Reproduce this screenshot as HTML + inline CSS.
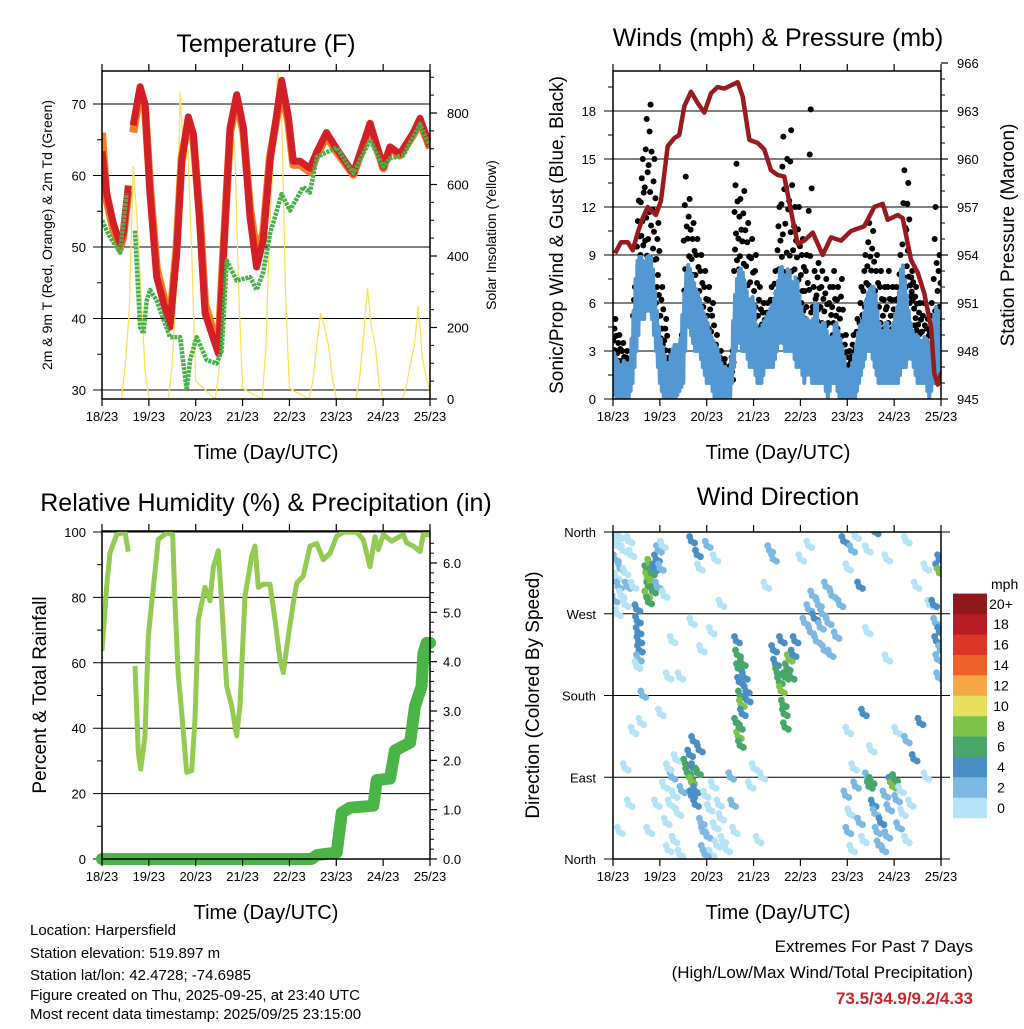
<!DOCTYPE html>
<html><head><meta charset="utf-8"><style>
html,body{margin:0;padding:0;background:#fff;}
svg text{font-family:"Liberation Sans",sans-serif;fill:#000;}
</style></head><body>
<svg id="fig" width="1024" height="1024" viewBox="0 0 1024 1024" xmlns="http://www.w3.org/2000/svg">
<defs>
<clipPath id="c1"><rect x="102" y="71" width="328" height="328"/></clipPath>
<clipPath id="c2"><rect x="613" y="71" width="328" height="328"/></clipPath>
<clipPath id="c3"><rect x="102" y="531" width="328" height="328"/></clipPath>
<clipPath id="c4"><rect x="613" y="532" width="328" height="327"/></clipPath>
</defs>
<g id="g1"></g>
<g id="g2"></g>
<g id="g3"></g>
<g id="g4"></g>
<g id="gt">
<text x="266" y="52" font-size="25" text-anchor="middle">Temperature (F)</text>
<text x="778" y="46" font-size="25" text-anchor="middle">Winds (mph) &amp; Pressure (mb)</text>
<text x="266" y="511" font-size="25" text-anchor="middle">Relative Humidity (%) &amp; Precipitation (in)</text>
<text x="778" y="505" font-size="25" text-anchor="middle">Wind Direction</text>
<text x="266" y="459" font-size="20" text-anchor="middle">Time (Day/UTC)</text>
<text x="778" y="459" font-size="20" text-anchor="middle">Time (Day/UTC)</text>
<text x="266" y="919" font-size="20" text-anchor="middle">Time (Day/UTC)</text>
<text x="778" y="919" font-size="20" text-anchor="middle">Time (Day/UTC)</text>
<text transform="translate(52,235) rotate(-90)" font-size="14" text-anchor="middle">2m &amp; 9m T (Red, Orange) &amp; 2m Td (Green)</text>
<text transform="translate(496,235) rotate(-90)" font-size="14" text-anchor="middle">Solar Insolation (Yellow)</text>
<text transform="translate(563,235) rotate(-90)" font-size="19" text-anchor="middle">Sonic/Prop Wind &amp; Gust (Blue, Black)</text>
<text transform="translate(1014,235) rotate(-90)" font-size="19" text-anchor="middle">Station Pressure (Maroon)</text>
<text transform="translate(46,695) rotate(-90)" font-size="19" text-anchor="middle">Percent &amp; Total Rainfall</text>
<text transform="translate(539,695) rotate(-90)" font-size="19" text-anchor="middle">Direction (Colored By Speed)</text>
<text x="991" y="589" font-size="14">mph</text>
<g font-size="15">
<text x="30" y="935">Location: Harpersfield</text>
<text x="30" y="958">Station elevation: 519.897 m</text>
<text x="30" y="980">Station lat/lon: 42.4728; -74.6985</text>
<text x="30" y="1000">Figure created on Thu, 2025-09-25, at 23:40 UTC</text>
<text x="30" y="1019">Most recent data timestamp: 2025/09/25 23:15:00</text>
</g>
<text x="973" y="952" font-size="17" text-anchor="end">Extremes For Past 7 Days</text>
<text x="973" y="978" font-size="17" text-anchor="end">(High/Low/Max Wind/Total Precipitation)</text>
<text x="973" y="1004" font-size="17" font-weight="bold" text-anchor="end" style="fill:#cc2229">73.5/34.9/9.2/4.33</text>
</g>
</svg>
<script>
// ---------- data ----------
const dayLabels = ["18/23","19/23","20/23","21/23","22/23","23/23","24/23","25/23"];
const tempHours = [0,2.4,5.8,9.2,10.9,13.5,null,16,19.5,22,24.6,28,34.8,38.2,40.8,44.2,46.8,50.2,52.8,59.6,62.1,65.6,69,72.4,75.8,79.2,82.6,86,92,95.4,98,101.4,106.5,110,115,120.2,128.7,137.3,144.1,147.5,152.6,159.5,162.9,168];
const temp9m = [63.4,57.5,53.3,50.5,52,58.6,null,67,72.4,70,57.5,45.8,38.8,49,62,68.2,65.8,52.8,40.7,35.1,48.1,66.7,71.3,66.7,54.2,47.2,51,62,73.3,68.2,62,62,61,63.3,66,63.7,60.3,67.3,61.2,64,63,66,68,64];
const temp2m = [66,56.5,52.5,49.8,51.5,57.8,null,66,71.5,69.5,58.5,47,39.5,50,62.5,67.5,65,54,42,35.8,49,66,70.5,66,55.5,49,52,62.5,72,67.5,61.5,61.5,60.5,62.8,65.5,63.3,60.1,66.8,61,63.8,62.8,65.7,67.6,63.8];
const dewHours = [0,4.1,9.2,12.6,null,16.9,19.5,21.2,22.9,24.6,28,34.8,40,43.4,45.1,48.5,53.6,58.7,61.3,63.9,69,75.8,79.2,82.6,86,92,96.3,103.1,106.5,110,120.2,128.7,137.3,144.1,147.5,154.3,162.9,168];
const dewPoint = [53.7,51.4,49.2,57.5,null,52.3,38.8,37.9,42.5,44,42.5,37.4,37.4,30,34.2,37.4,34.2,33.7,35.5,48.1,45.3,45.8,44,46.5,51.8,57.4,55.1,58.4,57.6,62.6,63.9,60.3,65,61.2,62.4,62.8,67.2,64];
const solarHours = [0,10,12,14,16,18,20,22,24,34,36,38,40,42,44,46,48,58,60,62,64,66,68,70,72,82,84,86,88,90,92,94,96,106,108,110,112,114,116,118,120,130,132,134,136,138,140,142,144,154,156,158,160,162,164,166,168];
const solarWm2 = [0,0,100,250,650,500,300,80,0,0,100,300,860,650,700,400,50,0,80,350,600,800,700,300,30,0,150,500,700,917,800,300,30,0,50,150,240,200,150,60,0,0,60,180,310,200,150,40,0,0,40,100,150,260,120,60,20];
const tempTicks = [30,40,50,60,70];
const solarTicks = [0,200,400,600,800];

const presHoursZ = [42,60,80,95,110,125,140,165,180,200,220,235,250,270,290,310,330,350,370,390,410,425,445,470,490,510,530,550,575,590,610,635,665,690,720,750,790,820,845,860,890,905,930,950,970,990,1000,1010,1020,1028];
const pressure = [954.1,954.8,954.8,954.3,955.4,956.3,957.0,956.5,957.4,960.8,961.3,961.5,963.3,964.2,963.5,962.9,964.1,964.5,964.4,964.6,964.8,963.9,961.2,961.0,960.6,959.3,959.0,958.9,956.2,954.7,954.9,955.4,954.0,955.1,954.9,955.5,955.8,957.0,957.2,956.2,956.5,956.3,953.7,952.9,951.6,949.5,946.6,945.9,946.6,946.8];
const windLo = [0.5,0,0,0,0,1,3,5,5,6,5,3,1,0,0,0,0,0.5,1,5,4,3,3,2,1,1,0,0,0,0,0,2,4,3,3,2,2,1,1,2,2,2,3,4,3,3,3,2,2,1,2,1,1,1,1,0,1,1,0,0,0,0,0,1,2,3,3,2,1,1,1,1,1,1,2,2,3,2,1,1,1,0,1,1,1];
const windHi = [3,2.5,2,2.5,1.5,4.5,8.5,9,8.5,9,8.8,6,4,3,2,3,3.5,3,6,8.5,8,7,6.5,5.5,5,4,3.5,3,2,2,1.5,6,8,8.2,7,6,6.5,4,4.5,5,5.5,6,7,8.5,7.5,8.3,7,7.8,6,5,5,4.5,6.5,4,5,4,3.5,5,4,3,1.5,2,3,4.5,5,6.5,7,7,5,4,5,4,5,6,8.8,7,5,4,4,3.5,4,3,5,6,4];
const gustLo = [2,1.5,1,1,1,3,6,9,8,10,8,6,3,2,1,1,1,1,5,7,6,5,4,3,3,2,1,1,1,0.5,1,8,7,6,5,4,4,3,3,3,3,4,6,7,6,7,6,5,5,4,4,3,4,3,3,2,3,3,2,1,1,1,1,2,4,5,5,4,3,3,3,3,3,3,4,7,6,4,3,2,2,2,2,4,3];
const gustHi = [5,4,3.5,3,2.5,7,12.4,15,17.5,18.4,15,11,7,5,3,2.5,3,4,13.9,12.5,11,10,9,8,7,6,4,3,2.5,2,3,14.7,12.5,13,11,10,9,7,6,6,7,8,12,16.4,15,16.8,12,12,10,9,18.1,8,8.5,8,7.5,7,8,7,7.5,4,3,4,5,7,9,11,10.5,9,8,7,8,7,7,9,14.3,13.5,8,7,6,6,5,6,12,9,5];
const windTicks = [0,3,6,9,12,15,18];
const presTicks = [945,948,951,954,957,960,963,966];

const rhHoursZ = [36,50,60,80,105,115,null,135,145,152,165,175,190,205,230,248,255,265,275,290,305,315,325,345,360,370,385,395,410,425,440,450,465,485,495,505,520,540,555,570,580,595,610,620,640,660,680,700,720,740,760,800,820,840,855,865,880,905,940,950,970,990,1000,1020];
const relHum = [63.6,83.5,93.6,99.2,100,94,null,59,32.5,27.5,37.6,68.1,83,97.7,99.7,99.2,78.3,56.1,44.8,26.5,27,42.7,73.2,83.1,79,89.2,94.3,78.3,52.9,46.8,37.6,47,80.4,92.6,95.7,83.1,84,84,73.2,61,57,68.1,78.3,84.4,86.5,95.7,96.5,91.5,93.5,98.7,100,100,97.6,89.4,98.6,94.6,99.2,97.2,99.2,96.7,95.7,94,99.2,99.2];
const precipHours = [0,107.4,110,120.2,122.8,127,139,140.7,147.5,150,157.8,160.3,163.7,164.6,166.3,168];
const precipIn = [0,0,0.08,0.13,0.94,1.04,1.08,1.6,1.63,2.2,2.36,3.1,3.5,4.17,4.38,4.38];
const rhTicks = [0,20,40,60,80,100];
const precipTicks = ["0.0","1.0","2.0","3.0","4.0","5.0","6.0"];

const dirHours = [0.5,1,1.5,2,2.5,3,3.5,4,5,6,7,8,0.3,2,6,9,10,12,12.3,12.6,13,13.3,12.8,12,17,17.5,18,18.5,19,19.5,20,17,18,21,22,22.5,23,24,25,26,6,3,8,10,14,15,18,22,24,28,30,34,40,45,50,55,52,48,44,40,43,26,27,28,29,30,31,32,33,34,35,28,31,37,38,39,40,41,42,43,44,41,42,39,40,45,46,47,48,49,50,51,52,53,54,55,56,58,46,47,63,63.5,64,64.5,65,65.5,66,63,64,65,67,68,68.5,66,64.5,60,61,62,70,72,74,76,78,80,82,82,83,84,85,86,87,87.5,88,89,90,91,92,93,86,88,98,100,101,102,103,104,105,106,107,108,110,112,114,116,109,111,96,100,118,120,122,124,126,130,134,140,150,155,160,162,130,140,128,132,145,150,154,157,160,120,123,119,120,121,122,124,126,128,130,131,132,133,134,135,136,137,138,139,140,141,142,143,144,145,146,148,150,152,147,164,165,165.5,166,166.5,167,167.5,166,167,167];
const dirDeg = [350,330,310,345,300,355,320,290,340,315,300,350,285,270,280,335,300,275,262,250,240,230,220,212,318,310,300,325,305,315,295,290,283,320,330,300,340,320,345,290,100,30,60,140,150,180,30,60,160,200,240,200,260,230,250,280,330,345,320,350,335,80,40,10,60,90,20,110,50,5,75,100,70,105,95,90,85,100,75,95,120,130,60,115,70,40,10,70,25,55,5,80,35,15,60,45,20,10,30,5,240,225,210,195,180,170,160,150,135,125,200,185,175,215,145,90,60,30,80,100,20,90,300,340,330,230,215,205,195,185,170,160,145,210,220,200,225,240,240,200,260,275,250,290,265,240,280,255,270,230,260,290,245,280,300,225,330,345,350,320,340,355,300,340,360,330,350,300,320,280,250,220,160,120,140,130,110,150,90,140,100,70,30,50,10,80,40,20,90,80,85,60,50,30,15,40,10,70,25,55,85,80,88,65,35,50,20,60,75,280,260,240,220,200,250,230,320,315,330];
const dirSpeed = [1,2,1,1,3,1,2,1,1,1,2,1,2,1,1,1,1,5,4,5,4,4,3,1,7,8,7,8,9,7,6,8,7,5,4,3,2,3,1,1,1,1,1,1,1,2,1,1,1,1,1,1,1,1,1,1,1,2,1,4,4,1,1,1,1,2,1,1,1,1,2,1,1,6,7,6,8,5,4,6,4,4,5,5,4,2,2,1,2,1,1,1,1,1,1,1,1,1,3,3,5,6,7,5,6,8,5,7,8,7,4,5,4,6,7,2,2,1,1,1,1,1,1,2,3,4,5,6,7,8,7,6,6,7,8,6,4,4,5,6,3,2,3,2,4,2,2,2,3,2,2,2,2,3,2,2,1,1,4,1,2,1,4,1,4,1,1,1,1,1,1,1,4,1,1,2,4,4,1,1,1,2,2,1,1,3,2,1,3,6,6,4,2,2,2,4,2,2,2,2,4,8,6,3,2,1,1,1,1,4,3,4,3,2,4,3,4,8,4,6];
const dirTickLabels = ["North","East","South","West","North"];
const speedBins = ["0","2","4","6","8","10","12","14","16","18","20+"];
const speedColors = ["#b4e2f6","#7db8e2","#4a8ec6","#48a66b","#7ec24a","#e6e05e","#f5a745","#ee6229","#dc3528","#b71c24","#8f181b"];

// ---------- helpers ----------
const NS = "http://www.w3.org/2000/svg";
function mk(parent, tag, attrs) {
  const e = document.createElementNS(NS, tag);
  for (const k in attrs) e.setAttribute(k, attrs[k]);
  parent.appendChild(e);
  return e;
}
const X0A = 102, X0B = 613, PW = 328;
function xh(x0, h) { return x0 + h * PW / 168; }
function xz(x0, z) { return x0 + (z - 36) / 984 * PW; }
function linePath(xs, ys) {
  let d = "", pen = false;
  for (let i = 0; i < xs.length; i++) {
    if (xs[i] === null || ys[i] === null) { pen = false; continue; }
    d += (pen ? "L" : "M") + xs[i].toFixed(1) + " " + ys[i].toFixed(1);
    pen = true;
  }
  return d;
}
function frame(g, x0, y0, y1, name) {
  const f = mk(g, "rect", {x: x0, y: y0, width: PW, height: y1 - y0, fill: "none", stroke: "#000", "stroke-width": 1.5});
  
  
  for (let i = 0; i < 8; i++) {
    const x = xh(x0, i * 24);
    mk(g, "line", {x1: x, x2: x, y1: y0 - 7, y2: y0, stroke: "#000", "stroke-width": 1.2});
    mk(g, "line", {x1: x, x2: x, y1: y1, y2: y1 + 7, stroke: "#000", "stroke-width": 1.2});
    const t = mk(g, "text", {x: x, y: y1 + 22, "font-size": 13, "text-anchor": "middle"});
    
    
    t.textContent = dayLabels[i];
  }
}
function hgrid(g, x0, y) {
  mk(g, "line", {x1: x0 - 9, x2: x0 + PW, y1: y, y2: y, stroke: "#000", "stroke-width": 1});
}
function ytick(g, x, y, len, w) { mk(g, "line", {x1: x, x2: x + len, y1: y, y2: y, stroke: "#000", "stroke-width": w}); }
function label(g, x, y, txt, anchor, name, size) {
  const t = mk(g, "text", {x: x, y: y + 5, "font-size": size || 13, "text-anchor": anchor});
  
  
  t.textContent = txt;
}

// ---------- panel 1: temperature ----------
(function () {
  const g = document.getElementById("g1");
  const yT = v => 390 - (v - 30) * 7.15;
  const yS = w => 399 - w * 0.3575;
  tempTicks.forEach(v => { hgrid(g, X0A, yT(v)); label(g, 86, yT(v), String(v), "end", "temp-tick-label"); });
  for (let v = 35; v < 75; v += 10) ytick(g, X0A - 5, yT(v), 5, 1);
  solarTicks.forEach(w => { ytick(g, 430, yS(w), 7, 1.2); label(g, 447, yS(w), String(w), "start", "solar-tick-label"); });
  for (let w = 50; w < 917; w += 50) ytick(g, 430, yS(w), 4, 1);
  const c = mk(g, "g", {"clip-path": "url(#c1)"});
  const sol = mk(c, "path", {d: linePath(solarHours.map(h => xh(X0A, h)), solarWm2.map(yS)), fill: "none", stroke: "#fbe05a", "stroke-width": 1.3});
  
  
  const o = mk(c, "path", {d: linePath(tempHours.map(h => h === null ? null : xh(X0A, h)), temp2m.map(v => v === null ? null : yT(v))), fill: "none", stroke: "#f47d22", "stroke-width": 8, "stroke-linejoin": "round"});
  
  
  const r = mk(c, "path", {d: linePath(tempHours.map(h => h === null ? null : xh(X0A, h)), temp9m.map(v => v === null ? null : yT(v))), fill: "none", stroke: "#d41f27", "stroke-width": 7, "stroke-linejoin": "round"});
  
  
  const dp = mk(c, "path", {d: linePath(dewHours.map(h => h === null ? null : xh(X0A, h)), dewPoint.map(v => v === null ? null : yT(v))), fill: "none", stroke: "#47b04a", "stroke-width": 4.5, "stroke-dasharray": "3 1", "stroke-linejoin": "round"});
  
  
  frame(g, X0A, 71, 399, "temperature");
})();

// ---------- panel 2: winds & pressure ----------
(function () {
  const g = document.getElementById("g2");
  const yW = v => 399 - v * 16;
  const yP = p => 399 - (p - 945) * 16;
  windTicks.forEach(v => { hgrid(g, X0B, yW(v)); label(g, 596, yW(v), String(v), "end", "wind-tick-label"); });
  for (let v = 1.5; v < 20; v += 3) ytick(g, X0B - 5, yW(v), 5, 1);
  presTicks.forEach(p => { ytick(g, 941, yP(p), 7, 1.2); label(g, 957, yP(p), String(p), "start", "pressure-tick-label"); });
  for (let p = 946; p < 966; p++) if ((p - 945) % 3) ytick(g, 941, yP(p), 4, 1);
  const c = mk(g, "g", {"clip-path": "url(#c2)"});
  const fr = [0, 0.55, 0.2, 0.8, 0.35, 1, 0.1, 0.65];
  for (let i = 0; i < gustLo.length; i++) {
    const h = i * 2;
    fr.forEach((f, k) => {
      const d = mk(c, "circle", {cx: xh(X0B, h + k * 0.25), cy: yW(gustLo[i] + f * (gustHi[i] - gustLo[i])), r: 3, fill: "#000"});
      
      
    });
  }
  const xs = [], ys = [];
  for (let i = 0; i < windLo.length - 1; i++) {
    for (let k = 0; k < 4; k++) {
      const t = k / 4;
      const lo = windLo[i] + t * (windLo[i + 1] - windLo[i]);
      const hi = windHi[i] + t * (windHi[i + 1] - windHi[i]);
      xs.push(xh(X0B, i * 2 + k * 0.5)); ys.push(yW(k % 2 ? hi : lo));
    }
  }
  const w = mk(c, "path", {d: linePath(xs, ys), fill: "none", stroke: "#5398d2", "stroke-width": 4, "stroke-linejoin": "round"});
  
  
  const pr = mk(c, "path", {d: linePath(presHoursZ.map(z => xz(X0B, z)), pressure.map(yP)), fill: "none", stroke: "#981b1e", "stroke-width": 4.5, "stroke-linejoin": "round"});
  
  
  frame(g, X0B, 71, 399, "winds");
})();

// ---------- panel 3: RH & precipitation ----------
(function () {
  const g = document.getElementById("g3");
  const yR = v => 859 - v * 3.27;
  const yPr = v => 859 - v * 49.33;
  rhTicks.forEach(v => { hgrid(g, X0A, yR(v)); label(g, 86, yR(v), String(v), "end", "rh-tick-label"); });
  for (let v = 10; v < 100; v += 20) ytick(g, X0A - 5, yR(v), 5, 1);
  precipTicks.forEach(s => { const v = parseFloat(s); ytick(g, 430, yPr(v), 7, 1.2); label(g, 443, yPr(v), s, "start", "precip-tick-label"); });
  for (let k = 1; k < 33; k++) if (k % 5) ytick(g, 430, yPr(k * 0.2), 4, 1);
  const c = mk(g, "g", {"clip-path": "url(#c3)"});
  const rh = mk(c, "path", {d: linePath(rhHoursZ.map(z => z === null ? null : xz(X0A, z)), relHum.map(v => v === null ? null : yR(v))), fill: "none", stroke: "#93ca52", "stroke-width": 5, "stroke-linejoin": "round"});
  
  
  const c2 = mk(g, "g", {});
  const pp = mk(c2, "path", {d: linePath(precipHours.map(h => xh(X0A, h)), precipIn.map(yPr)), fill: "none", stroke: "#4ab446", "stroke-width": 12, "stroke-linejoin": "round", "stroke-linecap": "round"});
  
  
  frame(g, X0A, 531, 859, "humidity");
})();

// ---------- panel 4: wind direction ----------
(function () {
  const g = document.getElementById("g4");
  const yD = d => 859 - d * 327 / 360;
  dirTickLabels.forEach((s, i) => { const y = yD(i * 90); mk(g, "line", {x1: X0B - 9, x2: X0B + PW + 9, y1: y, y2: y, stroke: "#000", "stroke-width": 1}); label(g, 596, y, s, "end", "direction-tick-label"); });
  const c = mk(g, "g", {"clip-path": "url(#c4)"});
  const offs = [[0, 0], [3.5, 2], [-1.5, -4.5]];
  for (let i = 0; i < dirHours.length; i++) {
    const bin = Math.min(10, Math.floor(dirSpeed[i] / 2));
    const cx = xh(X0B, dirHours[i]), cy = yD(dirDeg[i]);
    offs.forEach(o => {
      const p = mk(c, "circle", {cx: cx + o[0], cy: cy + o[1], r: 3.4, fill: speedColors[bin]});
      
      
    });
  }
  frame(g, X0B, 532, 859, "wind-direction");
  for (let i = 0; i < speedBins.length; i++) {
    const y = 818 - (i + 1) * 20.4;
    const b = mk(g, "rect", {x: 953, y: y, width: 34, height: 20.6, fill: speedColors[i]});
    
    
    label(g, 1001, y + 10.2, speedBins[i], "middle", "colorbar-label", 14);
  }
})();
</script>
</body></html>
